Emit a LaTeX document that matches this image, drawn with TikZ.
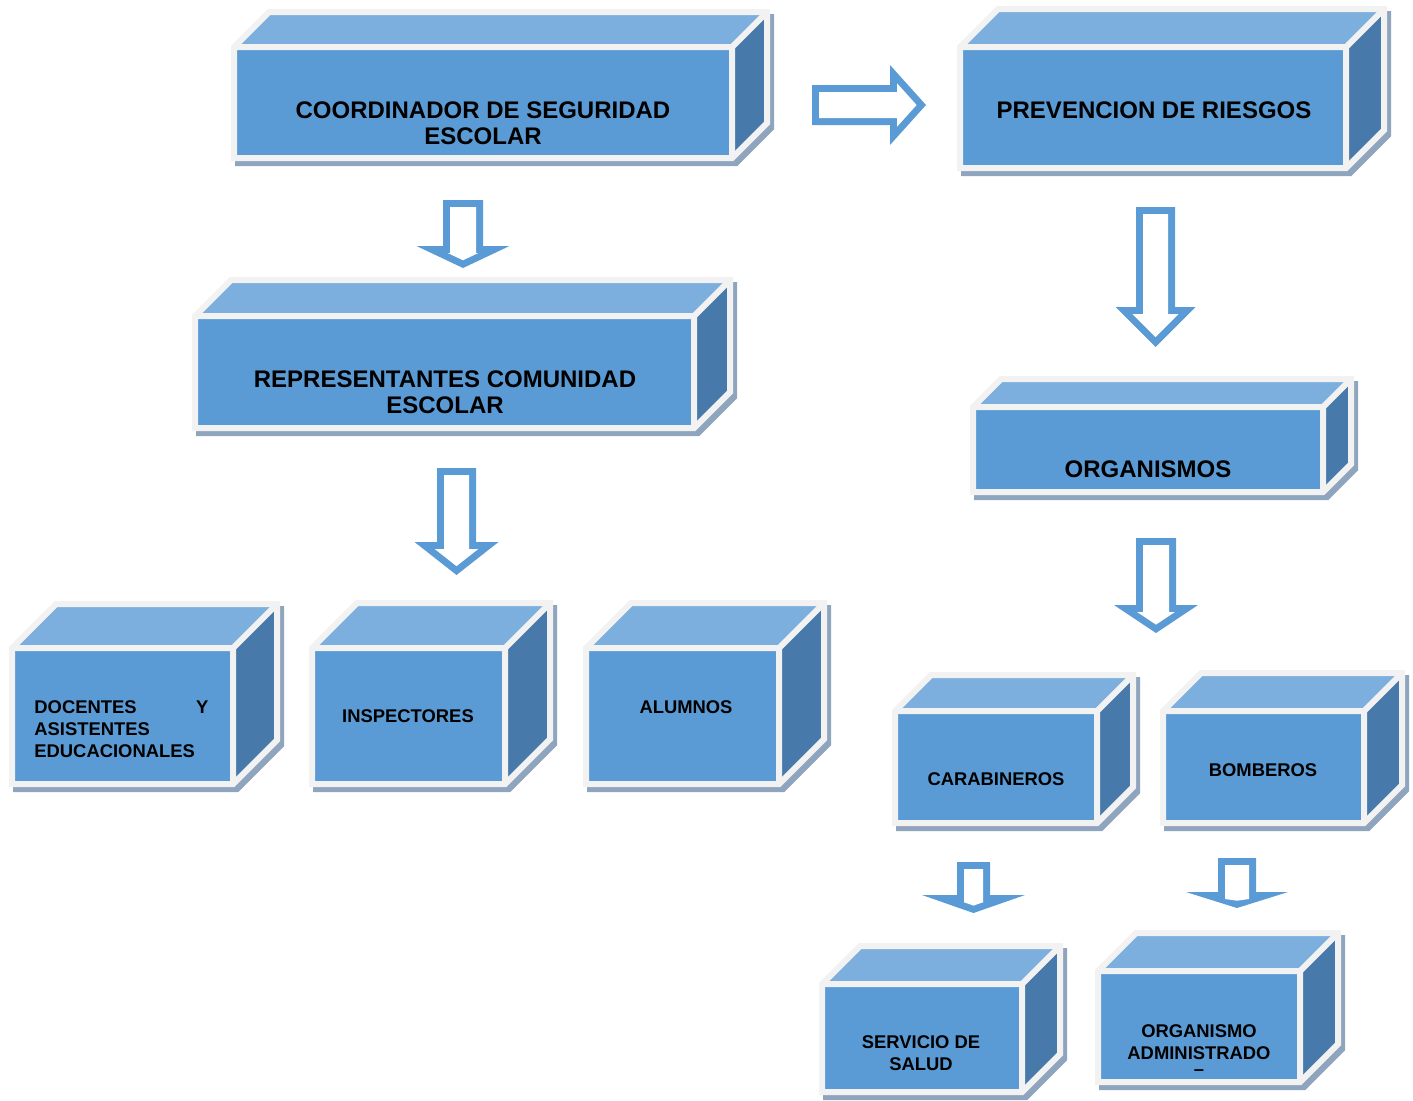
\documentclass[tikz,border=0pt]{standalone}
\usepackage{fontspec}
\setmainfont{Liberation Sans}
\usepackage{tikz}
\usetikzlibrary{calc,positioning}
\definecolor{frente}{HTML}{5B9BD5}
\definecolor{tapa}{HTML}{7CAFDD}
\definecolor{lado}{HTML}{477AAB}
\definecolor{borde}{HTML}{F2F2F2}
\definecolor{sombra}{HTML}{8FA5BE}
\tikzset{
  linea/.style={line width=3pt, line join=miter, draw=borde},
  grande/.style={font=\bfseries\fontsize{12}{13.2}\selectfont, align=center, inner sep=0pt},
  chico/.style={font=\bfseries\fontsize{9.2}{11}\selectfont, align=center, inner sep=0pt}
}
%Caja en 3D: frente (x1,y1)-(x2,y2), profundidad d
\newcommand{\caja}[5]{
  \draw[linea, draw=sombra, fill=sombra, shift={(4,5)}] (#1,#4) -- (#1,#2) -- ({#1+#5},{#2-#5}) -- ({#3+#5},{#2-#5}) -- ({#3+#5},{#4-#5}) -- (#3,#4) -- cycle;
  \fill[frente] (#1,#2) rectangle (#3,#4);
  \fill[tapa] (#1,#2) -- ({#1+#5},{#2-#5}) -- ({#3+#5},{#2-#5}) -- (#3,#2) -- cycle;
  \fill[lado] (#3,#2) -- ({#3+#5},{#2-#5}) -- ({#3+#5},{#4-#5}) -- (#3,#4) -- cycle;
  \draw[linea] (#1,#4) -- (#1,#2) -- ({#1+#5},{#2-#5}) -- ({#3+#5},{#2-#5}) -- ({#3+#5},{#4-#5}) -- (#3,#4) -- cycle;
  \draw[linea] (#1,#2) -- (#3,#2) -- ({#3+#5},{#2-#5}) (#3,#2) -- (#3,#4);
}
%Flecha de bloque hacia abajo (local): medio ancho, medio ancho punta, inicio punta, punta, grosor
\newcommand{\bloque}[5]{
  \pgfmathsetmacro{\anchoi}{#1-#5}
  \pgfmathsetmacro{\largo}{#4-#3}
  \pgfmathsetmacro{\puntai}{#4-#5*sqrt(#2*#2+\largo*\largo)/#2}
  \pgfmathsetmacro{\alai}{max(\anchoi,(\puntai-#3-#5)*#2/\largo)}
  \fill[frente] (-#1,0) -- (#1,0) -- (#1,#3) -- (#2,#3) -- (0,#4) -- (-#2,#3) -- (-#1,#3) -- cycle;
  \fill[white] (-\anchoi,#5) -- (\anchoi,#5) -- (\anchoi,{#3+#5}) -- (\alai,{#3+#5}) -- (0,\puntai) -- (-\alai,{#3+#5}) -- (-\anchoi,{#3+#5}) -- cycle;
}
\def\cajas{234/47/732/158/35, 960/47/1346/168/38, 195/316/694/428/36, 973/407/1323/492/28,
  12/648/233/784/44, 312/648/505/784/45, 586/648/779/784/45, 895/711/1097/823/36,
  1163/711/1364/823/38, 822/984/1022/1092/38, 1098/971/1300/1082/38}
\begin{document}
\begin{tikzpicture}[x=0.5pt,y=-0.5pt]
  \useasboundingbox (0,0) rectangle (1413,1100);
  \foreach \xa/\ya/\xb/\yb/\d in \cajas {\caja{\xa}{\ya}{\xb}{\yb}{\d}}
%Textos
  \node[grande] (coord) at (483,123) {COORDINADOR DE SEGURIDAD\\ESCOLAR};
  \node[grande] (prev) at (1154,110) {PREVENCION DE RIESGOS};
  \node[grande] (repr) at (445,392) {REPRESENTANTES COMUNIDAD\\ESCOLAR};
  \node[grande] (organ) at (1148,469) {ORGANISMOS};
  \node[chico, anchor=west, text width=87pt, align=left] (doc) at (34,729) {DOCENTES\hfill Y\\ASISTENTES\\EDUCACIONALES};
  \node[chico] (insp) at (408,716) {INSPECTORES};
  \node[chico] (alum) at (686,707) {ALUMNOS};
  \node[chico] (carab) at (996,779) {CARABINEROS};
  \node[chico] (bomb) at (1263,770) {BOMBEROS};
  \node[chico] (salud) at (921,1053) {SERVICIO DE\\SALUD};
  \node[chico] (admin) at (1199,1050) {ORGANISMO\\ADMINISTRADO\\[-3pt]–};
%Borde del frente encima del texto
  \foreach \xa/\ya/\xb/\yb/\d in \cajas {\draw[linea] (\xa,\yb) -- (\xb,\yb);}
%Flechas
  \begin{scope}[shift={(812,105)}, rotate=90] \bloque{20}{40}{78}{114}{7} \end{scope}
  \begin{scope}[shift={(463,200)}] \bloque{20}{46.5}{46}{68}{7} \end{scope}
  \begin{scope}[shift={(456.5,468)}] \bloque{19.5}{42}{74}{107}{7} \end{scope}
  \begin{scope}[shift={(1155.5,207)}] \bloque{19.5}{40}{100}{140}{7} \end{scope}
  \begin{scope}[shift={(1156,538)}] \bloque{20}{42}{67}{95}{7} \end{scope}
  \begin{scope}[shift={(973.5,862)}] \bloque{16.5}{51.5}{33}{51}{7} \end{scope}
  \begin{scope}[shift={(1237,858)}] \bloque{19}{51}{34}{50}{7} \end{scope}
\end{tikzpicture}
\end{document}
